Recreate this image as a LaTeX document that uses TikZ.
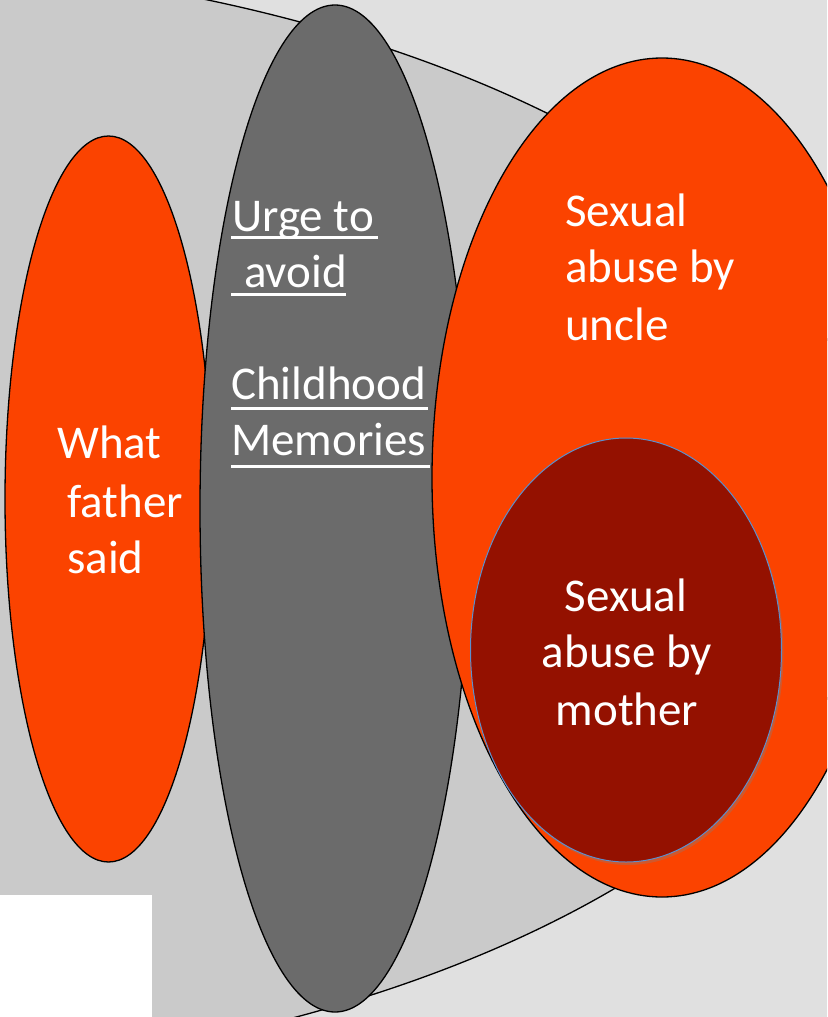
\documentclass[tikz,border=0pt]{standalone}
\usepackage{fontspec}
\setmainfont{Carlito}
\usetikzlibrary{shadows}
\definecolor{bgcol}{HTML}{E0E0E0}
\definecolor{bigcol}{HTML}{CACACA}
\definecolor{greycol}{HTML}{6B6B6B}
\definecolor{orangecol}{HTML}{FB4300}
\definecolor{darkredcol}{HTML}{941100}
\definecolor{bluecol}{HTML}{5B8FCF}
\tikzset{
  lbl/.style={text=white, inner sep=0pt, anchor=base west, font=\fontsize{47}{57}\selectfont},
  clbl/.style={text=white, inner sep=0pt, anchor=base, font=\fontsize{47}{57}\selectfont},
  uline/.style={white, line width=3pt},
  outl/.style={draw=black, line width=1.3pt},
}
\begin{document}
\begin{tikzpicture}[x=1pt,y=-1pt]
\useasboundingbox (0,0) rectangle (827,1017);
\clip (0,0) rectangle (827,1017);
\fill[bgcol] (0,0) rectangle (827,1017);
% big background ellipse
\filldraw[fill=bigcol, outl] (-200,519) ellipse [x radius=1084pt, y radius=560pt];
\fill[white] (0,895) rectangle (152,1017);
% left red ellipse
\filldraw[fill=orangecol, outl] (108.5,499) ellipse [x radius=103.5pt, y radius=363pt];
% grey ellipse
\filldraw[fill=greycol, outl] (335,508.5) ellipse [x radius=135pt, y radius=503.5pt];
% orange ellipse
\filldraw[fill=orangecol, outl] (662,477.5) ellipse [x radius=230pt, y radius=419.5pt];
% dark red ellipse
\filldraw[fill=darkredcol, draw=bluecol, line width=1pt,
  drop shadow={opacity=0.35, shadow xshift=2pt, shadow yshift=-3pt}]
  (626,650) ellipse [x radius=155.5pt, y radius=212pt];

% texts
\node[lbl] (w1) at (57,458) {What};
\node[lbl] (w2) at (67,517) {father};
\node[lbl] (w3) at (67,573) {said};

\node[lbl] (u1) at (232,231) {Urge to};
\node[lbl] (u2) at (244,287) {avoid};
\node[lbl] (u3) at (231,399) {Childhood};
\node[lbl] (u4) at (231,455) {Memories};
\draw[uline] (231,237.5) -- (378,237.5);
\draw[uline] (231,294) -- (346,294);
\draw[uline] (231,408) -- (428,408);
\draw[uline] (231,466) -- (430,466);

\node[lbl] (s1) at (565,226) {Sexual};
\node[lbl] (s2) at (565,282) {abuse by};
\node[lbl] (s3) at (565,340) {uncle};

\node[clbl] (m1) at (626,611) {Sexual};
\node[clbl] (m2) at (627,667) {abuse by};
\node[clbl] (m3) at (627,725) {mother};
\end{tikzpicture}
\end{document}
